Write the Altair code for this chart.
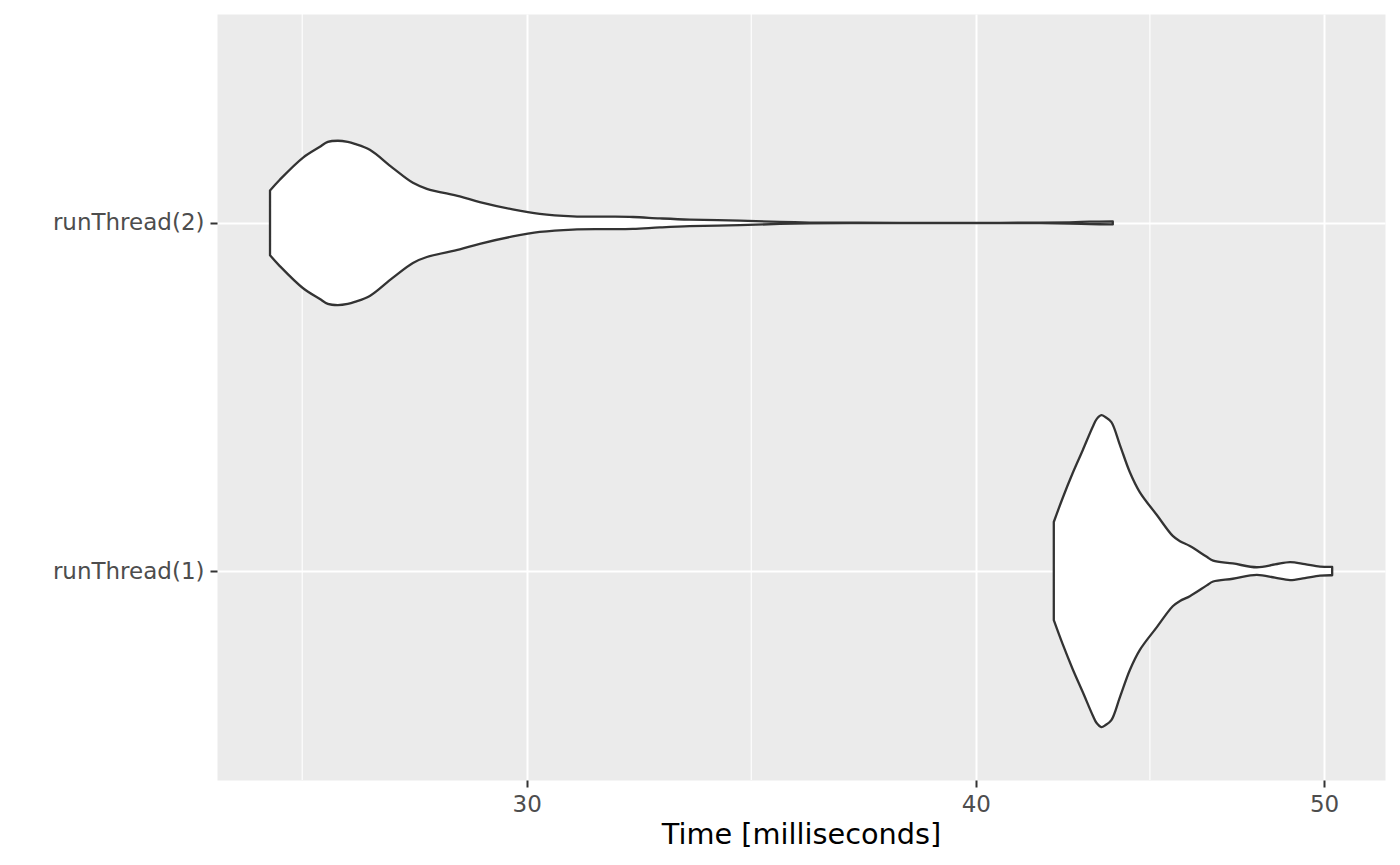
import altair as alt
import pandas as pd

categories = ["runThread(1)", "runThread(2)"]

# runThread(2): outline of the violin, time (ms) and half-width (in category units)
time_2 = [25.45, 25.61, 25.99, 26.27, 26.41, 26.58, 26.75, 26.87, 27.13, 27.53,
          27.89, 28.14, 28.74, 29.11, 29.73, 30.25, 30.90, 31.58, 32.11, 32.67,
          33.30, 34.39, 35.28, 35.96, 36.90, 38.10, 40.62, 41.68, 42.48, 43.03,
          43.67]
half_2 = [0.093, 0.124, 0.187, 0.218, 0.2326, 0.236, 0.2326, 0.227, 0.210, 0.158,
          0.115, 0.098, 0.076, 0.060, 0.039, 0.026, 0.019, 0.018, 0.017, 0.013,
          0.0095, 0.0066, 0.0029, 0.0011, 0.0006, 0.0003, 0.0003, 0.0006, 0.0017,
          0.0034, 0.0043]

# runThread(1)
time_1 = [42.05, 42.29, 42.56, 42.84, 43.11, 43.22, 43.35, 43.47, 43.63, 43.87,
          44.15, 44.43, 44.92, 45.38, 45.59, 45.88, 46.38, 46.57, 47.16, 47.89,
          48.45, 48.92, 49.39, 49.87, 50.26]
half_1 = [0.141, 0.210, 0.281, 0.348, 0.414, 0.4365, 0.448, 0.442, 0.428, 0.362,
          0.284, 0.227, 0.161, 0.101, 0.086, 0.072, 0.041, 0.030, 0.022, 0.011,
          0.019, 0.026, 0.020, 0.013, 0.012]

x_major = [30, 40, 50]
x_minor = [25.98, 34.64, 44.72]

rows = []
for cat, ts, hs in [(categories[0], time_1, half_1), (categories[1], time_2, half_2)]:
    pos = categories.index(cat) + 1
    for t, h in zip(ts, hs):
        rows.append({"group": cat, "time": t, "lo": pos - h, "hi": pos + h})
df = pd.DataFrame(rows)
minor_df = pd.DataFrame({"time": x_minor})

x_scale = alt.Scale(type="log", domain=[24.60, 51.99], nice=False)
y_scale = alt.Scale(domain=[0.4, 2.6], nice=False, zero=False)

label_expr = " : ".join(
    [f"datum.value == {i + 1} ? '{c}'" for i, c in enumerate(categories[:-1])]
    + [f"'{categories[-1]}'"]
)

common_axis = dict(
    domain=False,
    grid=True,
    gridColor="white",
    gridWidth=2,
    ticks=True,
    tickColor="#333333",
    tickWidth=2,
    tickSize=7,
    labelColor="#4D4D4D",
    labelFont="DejaVu Sans",
    labelFontSize=23,
    labelPadding=6,
)

x_axis = alt.Axis(
    values=x_major,
    format="d",
    title="Time [milliseconds]",
    titleFont="DejaVu Sans",
    titleFontSize=28.75,
    titleFontWeight="normal",
    titleColor="black",
    titlePadding=4,
    **common_axis,
)

minor = alt.Chart(minor_df).mark_rule(color="white", strokeWidth=1.1).encode(
    x=alt.X("time:Q", scale=x_scale, axis=x_axis)
)

violins = alt.Chart(df).mark_area(
    fill="white", stroke="#333333", strokeWidth=2.3, opacity=1,
    interpolate="catmull-rom", strokeJoin="round"
).encode(
    x=alt.X("time:Q", scale=x_scale, axis=x_axis),
    y=alt.Y(
        "lo:Q",
        scale=y_scale,
        axis=alt.Axis(values=[1, 2], labelExpr=label_expr, title=None, **common_axis),
    ),
    y2="hi:Q",
    detail="group:N",
)

chart = (
    alt.layer(minor, violins)
    .properties(
        width=1168,
        height=766,
        autosize=alt.AutoSizeParams(type="none"),
        padding={"left": 209, "top": 6, "right": 7, "bottom": 77},
        background="white",
    )
    .configure_view(fill="#EBEBEB", stroke="transparent")
)

chart.save("out.html", embed_options={"renderer": "svg", "actions": False})
